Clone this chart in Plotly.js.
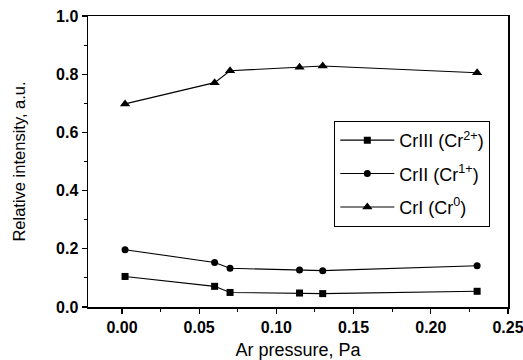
<!DOCTYPE html>
<html>
<head>
<meta charset="utf-8">
<script src="https://cdn.plot.ly/plotly-3.0.1.min.js"></script>
<style>html,body{margin:0;padding:0;background:#fff;}#chart{width:523px;height:360px;}</style>
</head>
<body>
<div id="chart"></div>
<script>
const pressure = [0.002, 0.06, 0.07, 0.115, 0.13, 0.23];
const crIII = [0.105, 0.071, 0.050, 0.048, 0.046, 0.054];
const crII = [0.197, 0.153, 0.133, 0.127, 0.125, 0.142];
const crI = [0.698, 0.771, 0.812, 0.824, 0.828, 0.805];
const seriesNames = ["CrIII (Cr<sup>2+</sup>)", "CrII (Cr<sup>1+</sup>)", "CrI (Cr<sup>0</sup>)"];
const xTicks = [0.00, 0.05, 0.10, 0.15, 0.20, 0.25];
const xTickText = ["0.00", "0.05", "0.10", "0.15", "0.20", "0.25"];
const yTicks = [0.0, 0.2, 0.4, 0.6, 0.8, 1.0];
const yTickText = ["0.0", "0.2", "0.4", "0.6", "0.8", "1.0"];

const font = "Liberation Sans, Arial, sans-serif";
const narrow = "Liberation Sans Narrow, Arial Narrow, Liberation Sans, sans-serif";
const mk = (y, name, symbol, size, grp) => ({
  x: pressure, y: y, name: name, type: "scatter", mode: "lines+markers",
  legendgroup: grp,
  line: {color: "#000", width: 1.1},
  marker: {symbol: symbol, size: size, color: "#000"}
});
const data = [
  mk(crIII, seriesNames[0], "square", 7, "a"),
  mk(crII, seriesNames[1], "circle", 7, "b"),
  mk(crI, seriesNames[2], "triangle-up", 9, "c")
];
const axisCommon = {
  showline: true, linecolor: "#000", linewidth: 1.5, mirror: true,
  ticks: "outside", ticklen: 5, tickwidth: 1.2, tickcolor: "#000",
  showgrid: false, zeroline: false, ticklabeloverflow: "allow",
  tickfont: {family: narrow, size: 16, color: "#000", weight: "bold"}
};
const layout = {
  width: 523, height: 360,
  margin: {l: 88, r: 15, t: 16, b: 53},
  paper_bgcolor: "#fff", plot_bgcolor: "#fff",
  showlegend: true,
  legend: {
    x: 0.586, y: 0.64, xanchor: "left", yanchor: "top",
    bordercolor: "#000", borderwidth: 1.2, bgcolor: "#fff",
    font: {family: font, size: 18, color: "#000"},
    itemwidth: 54,
    tracegroupgap: 7, traceorder: "grouped"
  },
  xaxis: Object.assign({}, axisCommon, {
    range: [-0.022, 0.25], tickvals: xTicks, ticktext: xTickText,
    minor: {ticks: "outside", ticklen: 3, tickwidth: 1, tickcolor: "#000", dtick: 0.025, tick0: 0},
    title: {text: "Ar pressure, Pa", font: {family: font, size: 18, color: "#000"}, standoff: 10}
  }),
  yaxis: Object.assign({}, axisCommon, {
    range: [0, 1.0], tickvals: yTicks, ticktext: yTickText,
    minor: {ticks: "outside", ticklen: 3, tickwidth: 1, tickcolor: "#000", dtick: 0.1, tick0: 0},
    title: {text: "Relative intensity, a.u.", font: {family: font, size: 16.5, color: "#000"}, standoff: 26}
  })
};
Plotly.newPlot("chart", data, layout, {displayModeBar: false, staticPlot: true});
</script>
</body>
</html>
